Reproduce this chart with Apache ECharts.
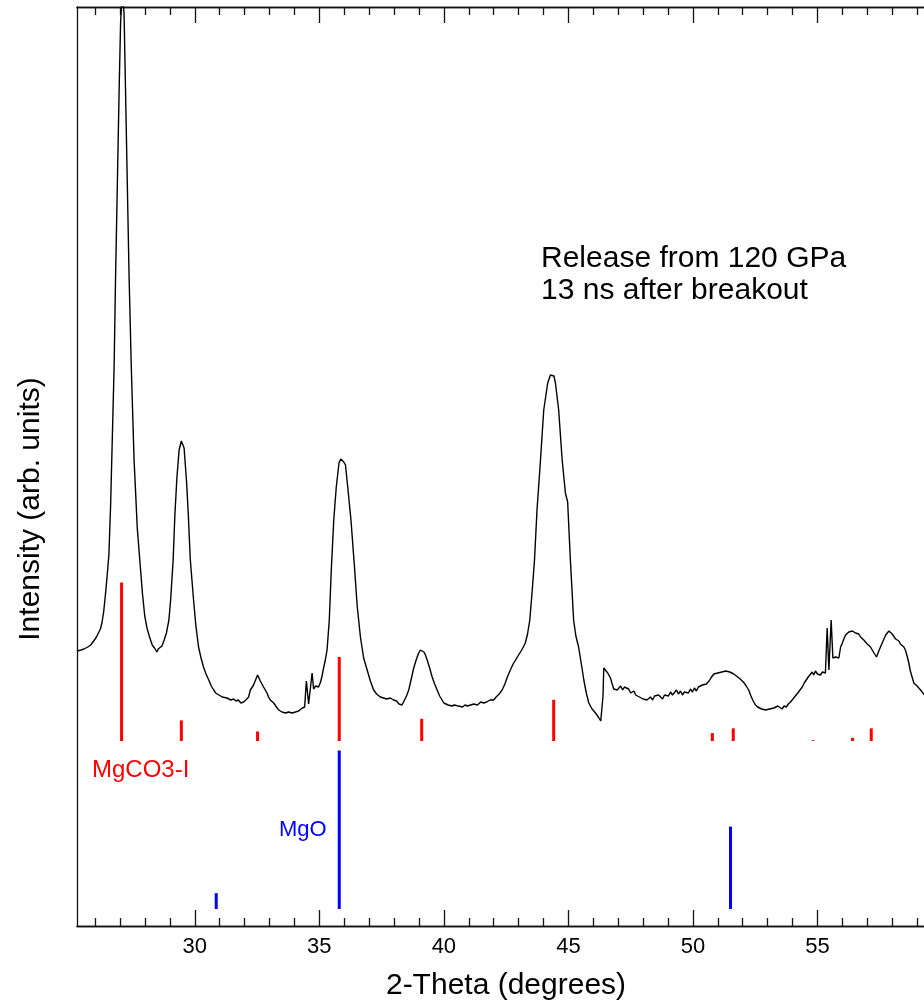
<!DOCTYPE html>
<html>
<head>
<meta charset="utf-8">
<script src="https://cdn.jsdelivr.net/npm/echarts@6/dist/echarts.min.js"></script>
<style>
html, body { margin: 0; padding: 0; background: #ffffff; }
#chart { width: 924px; height: 1008px; }
</style>
</head>
<body>
<div id="chart"></div>
<script>
// Diffraction pattern: 2-theta (degrees) and intensity (arb. units)
const twoTheta = [
  25.27, 25.35, 25.43, 25.50, 25.55, 25.62, 25.70, 25.76, 25.82, 25.88, 25.94, 26.00, 26.05, 26.09, 26.15, 26.21,
  26.27, 26.34, 26.41, 26.48, 26.55, 26.62, 26.69, 26.76, 26.82, 26.89, 26.96, 27.02, 27.09, 27.16, 27.22, 27.29,
  27.36, 27.45, 27.56, 27.69, 27.81, 27.90, 27.99, 28.08, 28.17, 28.29, 28.38, 28.45, 28.48, 28.53, 28.58, 28.68,
  28.77, 28.86, 28.96, 29.03, 29.13, 29.20, 29.28, 29.37, 29.46, 29.57, 29.67, 29.74, 29.82, 29.95, 30.04, 30.15,
  30.25, 30.35, 30.45, 30.56, 30.66, 30.76, 30.84, 30.90, 30.97, 31.03, 31.10, 31.18, 31.29, 31.37, 31.45, 31.56,
  31.65, 31.75, 31.85, 31.96, 32.05, 32.16, 32.23, 32.30, 32.36, 32.44, 32.52, 32.58, 32.63, 32.70, 32.76, 32.83,
  32.90, 32.96, 33.03, 33.10, 33.17, 33.25, 33.31, 33.37, 33.43, 33.50, 33.57, 33.64, 33.70, 33.77, 33.84, 33.91,
  33.97, 34.04, 34.10, 34.17, 34.24, 34.32, 34.41, 34.48, 34.57, 34.71, 34.77, 34.85, 34.92, 34.97, 35.05, 35.11,
  35.17, 35.24, 35.31, 35.40, 35.48, 35.58, 35.68, 35.79, 35.86, 35.91, 35.98, 36.05, 36.14, 36.27, 36.42, 36.52,
  36.65, 36.78, 36.92, 37.05, 37.18, 37.30, 37.45, 37.58, 37.70, 37.85, 37.98, 38.10, 38.20, 38.32, 38.42, 38.50,
  38.59, 38.70, 38.79, 38.90, 38.99, 39.06, 39.13, 39.20, 39.26, 39.33, 39.43, 39.53, 39.63, 39.73, 39.83, 39.90,
  40.00, 40.08, 40.17, 40.25, 40.33, 40.42, 40.50, 40.58, 40.66, 40.75, 40.85, 40.96, 41.07, 41.20, 41.35, 41.48,
  41.60, 41.72, 41.85, 42.00, 42.10, 42.22, 42.34, 42.45, 42.55, 42.67, 42.78, 42.88, 43.00, 43.10, 43.19, 43.27,
  43.36, 43.45, 43.54, 43.64, 43.74, 43.88, 44.01, 44.17, 44.28, 44.35, 44.42, 44.48, 44.61, 44.75, 44.88, 44.97,
  45.08, 45.21, 45.30, 45.41, 45.52, 45.62, 45.72, 45.82, 45.95, 46.09, 46.20, 46.30, 46.35, 46.39, 46.42, 46.49,
  46.58, 46.69, 46.76, 46.82, 46.90, 46.96, 47.02, 47.10, 47.18, 47.25, 47.33, 47.42, 47.50, 47.56, 47.63, 47.70,
  47.78, 47.85, 47.93, 48.00, 48.08, 48.15, 48.23, 48.30, 48.38, 48.46, 48.54, 48.62, 48.70, 48.78, 48.86, 48.94,
  49.02, 49.10, 49.18, 49.26, 49.34, 49.42, 49.50, 49.58, 49.66, 49.74, 49.82, 49.90, 49.98, 50.06, 50.14, 50.22,
  50.30, 50.38, 50.46, 50.54, 50.57, 50.65, 50.72, 50.78, 50.84, 50.92, 51.00, 51.08, 51.16, 51.24, 51.32, 51.40,
  51.48, 51.56, 51.64, 51.72, 51.80, 51.90, 51.98, 52.06, 52.14, 52.24, 52.33, 52.42, 52.51, 52.60, 52.68, 52.76,
  52.84, 52.92, 53.00, 53.08, 53.16, 53.25, 53.33, 53.41, 53.49, 53.58, 53.66, 53.75, 53.83, 53.92, 54.00, 54.08,
  54.16, 54.24, 54.32, 54.39, 54.47, 54.55, 54.63, 54.71, 54.79, 54.85, 54.92, 55.00, 55.06, 55.12, 55.20, 55.27,
  55.32, 55.39, 55.46, 55.55, 55.62, 55.66, 55.73, 55.80, 55.86, 55.93, 56.00, 56.06, 56.13, 56.20, 56.26, 56.33,
  56.40, 56.46, 56.53, 56.60, 56.66, 56.73, 56.80, 56.86, 56.93, 57.00, 57.06, 57.13, 57.20, 57.27, 57.33, 57.37,
  57.42, 57.48, 57.53, 57.60, 57.67, 57.74, 57.80, 57.87, 57.93, 58.00, 58.07, 58.14, 58.20, 58.27, 58.33, 58.40,
  58.47, 58.53, 58.60, 58.67, 58.73, 58.80, 58.87, 58.94, 59.00, 59.07, 59.14, 59.22, 59.30, 59.40, 59.50, 59.60
];
const intensity = [
  275, 273, 276, 274, 277, 276, 279, 278, 281, 282, 285, 287, 289, 291, 294, 297,
  303, 314, 331, 350, 371, 421, 490, 559, 651, 742, 834, 903, 935, 912, 834, 742,
  651, 559, 467, 398, 360, 332, 310, 298, 290, 281, 278, 276, 274, 277, 279, 280,
  286, 293, 306, 326, 366, 411, 448, 476, 485, 478, 444, 411, 366, 326, 301, 279,
  268, 259, 252, 246, 240, 236, 233, 233, 231, 231, 229, 230, 228, 229, 226, 227,
  225, 226, 223, 224, 226, 229, 236, 238, 241, 246, 251, 249, 245, 244, 239, 236,
  233, 229, 226, 224, 223, 220, 218, 216, 216, 214, 215, 213, 215, 214, 215, 213,
  215, 214, 216, 215, 217, 218, 219, 245, 222, 253, 237, 240, 238, 239, 244, 250,
  258, 266, 276, 306, 356, 406, 439, 463, 467, 466, 464, 461, 439, 406, 356, 320,
  289, 268, 256, 245, 236, 232, 229, 228, 227, 228, 226, 225, 222, 221, 226, 230,
  236, 248, 258, 267, 273, 276, 276, 274, 271, 266, 258, 249, 242, 236, 230, 228,
  223, 224, 221, 222, 220, 221, 219, 220, 218, 219, 221, 220, 221, 222, 221, 224,
  223, 224, 226, 226, 229, 232, 236, 242, 249, 256, 262, 266, 271, 275, 279, 283,
  292, 306, 333, 366, 416, 466, 516, 543, 551, 553, 550, 543, 516, 466, 433, 424,
  366, 306, 290, 279, 262, 246, 233, 223, 217, 213, 209, 205, 203, 230, 258, 258,
  253, 248, 242, 237, 238, 236, 238, 240, 236, 239, 241, 237, 233, 232, 235, 231,
  233, 229, 230, 227, 229, 226, 227, 229, 226, 230, 228, 231, 229, 227, 231, 233,
  230, 234, 231, 233, 236, 232, 235, 231, 234, 236, 233, 237, 234, 238, 235, 239,
  237, 241, 239, 242, 241, 245, 248, 250, 252, 254, 253, 255, 254, 256, 255, 253,
  254, 252, 252, 250, 249, 247, 246, 243, 240, 236, 230, 225, 221, 219, 220, 217,
  218, 216, 218, 217, 219, 218, 216, 220, 218, 217, 220, 219, 222, 224, 226, 229,
  231, 234, 236, 239, 243, 246, 249, 250, 254, 251, 255, 252, 254, 251, 254, 253,
  253, 298, 256, 306, 268, 268, 269, 267, 268, 279, 283, 287, 291, 290, 294, 292,
  295, 294, 293, 291, 292, 289, 289, 286, 284, 282, 281, 279, 276, 273, 271, 269,
  271, 276, 278, 283, 287, 291, 293, 295, 294, 292, 290, 287, 288, 285, 282, 280,
  279, 276, 270, 263, 255, 249, 243, 241, 240, 238, 236, 234, 231, 229, 227, 226
];

// Reference stick patterns: peak positions (degrees) and relative intensities (0-100)
const mgco3Positions = [27.06, 29.46, 32.52, 35.80, 39.11, 44.41, 50.78, 51.62, 54.83, 56.41, 57.16];
const mgco3Relative  = [100,   13,    6,     53,    14,    26,    5,     8,     0.5,   2,     8];
const mgoPositions   = [30.86, 35.80, 51.51];
const mgoRelative    = [10,    100,   52];

// Axis ticks
const majorTicks = [30, 35, 40, 45, 50, 55];
const minorTicks = [26, 27, 28, 29, 31, 32, 33, 34, 36, 37, 38, 39, 41, 42, 43, 44,
                    46, 47, 48, 49, 51, 52, 53, 54, 56, 57, 58, 59];

const FONT = '"Liberation Sans", Arial, Helvetica, sans-serif';
const X_MIN = 25.27, X_MAX = 59.72;
const Y_MIN = 0, Y_MAX = 919;
const MGCO3_BASE = 185;    // baseline of the MgCO3-I stick pattern
const MGO_BASE = 17;       // baseline of the MgO stick pattern
const STICK_SCALE = 1.585; // intensity units per relative-intensity unit

const pattern = twoTheta.map((t, i) => [t, intensity[i]]);
const mgco3Sticks = mgco3Positions.map((p, i) => [p, mgco3Relative[i]]);
const mgoSticks = mgoPositions.map((p, i) => [p, mgoRelative[i]]);

function stickRenderer(base, color) {
  return function (params, api) {
    const x = api.value(0);
    const h = api.value(1) * STICK_SCALE;
    const p0 = api.coord([x, base]);
    const p1 = api.coord([x, base + h]);
    return {
      type: 'line',
      shape: { x1: p0[0], y1: p0[1], x2: p1[0], y2: p1[1] },
      style: { stroke: color, lineWidth: 3, lineCap: 'butt' }
    };
  };
}

function xAxisDef(position, ticks, len, extra) {
  return Object.assign({
    type: 'value',
    gridIndex: 0,
    position: position,
    min: X_MIN,
    max: X_MAX,
    axisLine: { show: true, onZero: false, lineStyle: { color: '#111', width: 1.3 } },
    axisTick: { show: true, inside: true, length: len, customValues: ticks,
                lineStyle: { color: '#111', width: 1.3 } },
    axisLabel: { show: false },
    splitLine: { show: false }
  }, extra || {});
}

const chart = echarts.init(document.getElementById('chart'), null, { renderer: 'canvas' });

chart.setOption({
  animation: false,
  backgroundColor: '#ffffff',
  textStyle: { fontFamily: FONT },
  grid: { left: 77, top: 7, width: 858, height: 919, containLabel: false, outerBoundsMode: 'none' },
  xAxis: [
    xAxisDef('bottom', majorTicks, 16, {
      name: '2-Theta (degrees)',
      nameLocation: 'middle',
      nameGap: 45,
      nameTextStyle: { fontFamily: FONT, fontSize: 30, color: '#000' },
      axisLabel: { show: true, customValues: majorTicks, margin: 10,
                   fontFamily: FONT, fontSize: 22, color: '#000' }
    }),
    xAxisDef('bottom', minorTicks, 8),
    xAxisDef('top', majorTicks, 16),
    xAxisDef('top', minorTicks, 8)
  ],
  yAxis: {
    type: 'value',
    min: Y_MIN,
    max: Y_MAX,
    axisLine: { show: true, lineStyle: { color: '#111', width: 1.3 } },
    axisTick: { show: false },
    axisLabel: { show: false },
    splitLine: { show: false }
  },
  series: [
    {
      name: 'pattern',
      type: 'line',
      xAxisIndex: 0,
      data: pattern,
      showSymbol: false,
      clip: true,
      lineStyle: { color: '#000', width: 1.4 }
    },
    {
      name: 'MgCO3-I',
      type: 'custom',
      xAxisIndex: 0,
      data: mgco3Sticks,
      encode: { x: 0, y: 1 },
      renderItem: stickRenderer(MGCO3_BASE, '#ff0000')
    },
    {
      name: 'MgO',
      type: 'custom',
      xAxisIndex: 0,
      data: mgoSticks,
      encode: { x: 0, y: 1 },
      renderItem: stickRenderer(MGO_BASE, '#0000ff')
    }
  ],
  graphic: [
    {
      type: 'text', x: 31, y: 509, rotation: Math.PI / 2,
      style: { text: 'Intensity (arb. units)', font: '30px ' + FONT, fill: '#000',
               align: 'center', verticalAlign: 'middle' }
    },
    {
      type: 'text', left: 541, top: 243,
      style: { text: 'Release from 120 GPa\n13 ns after breakout', font: '30px ' + FONT,
               fill: '#000', lineHeight: 32 }
    },
    {
      type: 'text', left: 92, top: 758,
      style: { text: 'MgCO3-I', font: '24px ' + FONT, fill: '#ff0000' }
    },
    {
      type: 'text', left: 279, top: 819,
      style: { text: 'MgO', font: '22px ' + FONT, fill: '#0000ff' }
    }
  ]
});
</script>
</body>
</html>
